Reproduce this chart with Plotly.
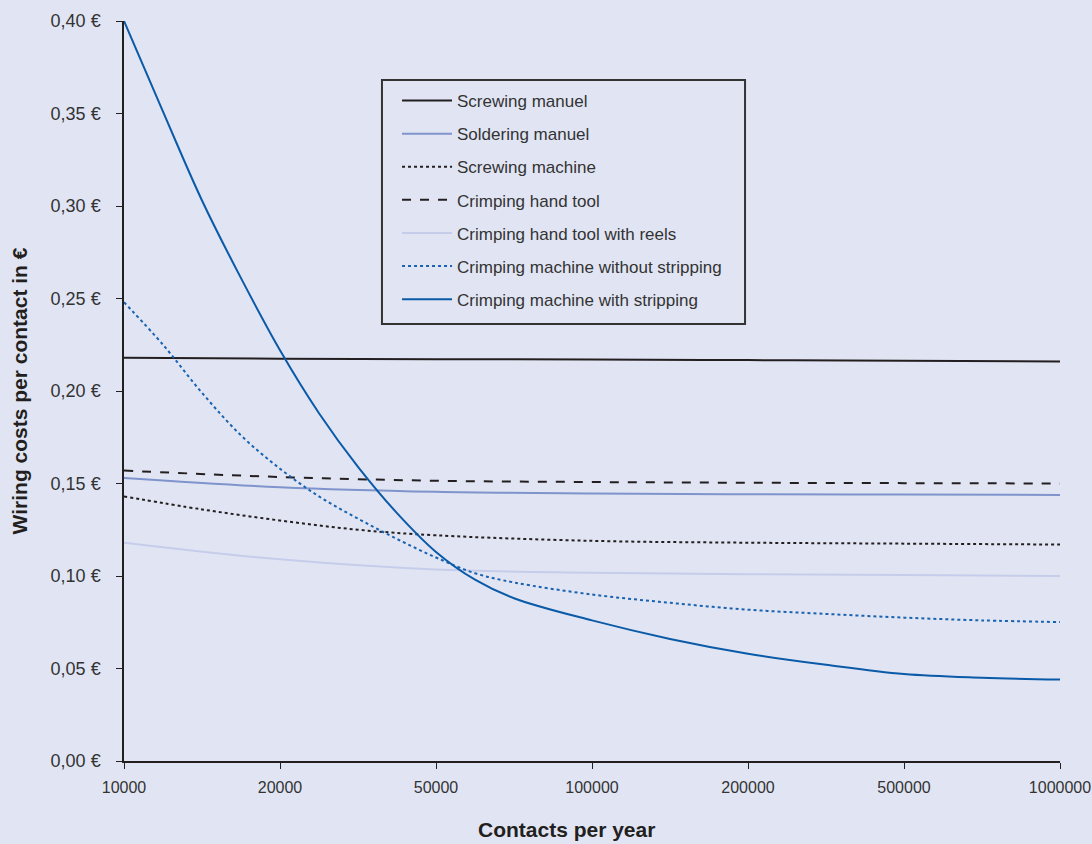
import plotly.graph_objects as go

# X axis: categories evenly spaced (index positions 0..6)
tick_labels = ["10000", "20000", "50000", "100000", "200000", "500000", "1000000"]
tick_pos = [0, 1, 2, 3, 4, 5, 6]

y_tick_vals = [0.00, 0.05, 0.10, 0.15, 0.20, 0.25, 0.30, 0.35, 0.40]
y_tick_text = ["0,00 €", "0,05 €", "0,10 €", "0,15 €", "0,20 €", "0,25 €", "0,30 €", "0,35 €", "0,40 €"]

# Series (x in category index positions, y in €)
x_screw_man = [0, 1, 2, 3, 4, 5, 6]
y_screw_man = [0.218, 0.2175, 0.2172, 0.217, 0.2167, 0.2164, 0.216]

x_solder_man = [0, 1, 2, 3, 4, 5, 6]
y_solder_man = [0.153, 0.148, 0.1455, 0.1446, 0.1442, 0.144, 0.1438]

x_screw_mach = [0, 0.5, 1, 1.5, 2, 3, 4, 5, 6]
y_screw_mach = [0.143, 0.136, 0.130, 0.125, 0.122, 0.119, 0.118, 0.1175, 0.117]

x_crimp_hand = [0, 1, 2, 3, 4, 5, 6]
y_crimp_hand = [0.157, 0.1535, 0.1515, 0.1508, 0.1504, 0.1502, 0.150]

x_crimp_reels = [0, 1, 2, 3, 4, 5, 6]
y_crimp_reels = [0.118, 0.109, 0.1035, 0.1018, 0.101, 0.1005, 0.100]

x_crimp_nostrip = [0, 0.25, 0.5, 0.75, 1.0, 1.25, 1.5, 1.75, 2.0, 2.25, 2.5, 3.0, 3.5, 4.0, 4.5, 5.0, 5.5, 6.0]
y_crimp_nostrip = [0.248, 0.225, 0.199, 0.176, 0.158, 0.143, 0.131, 0.120, 0.110, 0.1015, 0.0965, 0.090, 0.0855, 0.0818, 0.0795, 0.0775, 0.076, 0.0751]

x_crimp_strip = [0, 0.25, 0.5, 0.75, 1.0, 1.25, 1.5, 1.75, 2.0, 2.25, 2.5, 3.0, 3.5, 4.0, 4.5, 5.0, 5.5, 6.0]
y_crimp_strip = [0.400, 0.351, 0.303, 0.261, 0.222, 0.188, 0.159, 0.134, 0.113, 0.098, 0.088, 0.076, 0.066, 0.058, 0.052, 0.047, 0.045, 0.044]

series = [
    ("Screwing manuel", x_screw_man, y_screw_man, "#231f20", "solid"),
    ("Soldering manuel", x_solder_man, y_solder_man, "#7f93cc", "solid"),
    ("Screwing machine", x_screw_mach, y_screw_mach, "#231f20", "dot"),
    ("Crimping hand tool", x_crimp_hand, y_crimp_hand, "#231f20", "dash"),
    ("Crimping hand tool with reels", x_crimp_reels, y_crimp_reels, "#c6cdea", "solid"),
    ("Crimping machine without stripping", x_crimp_nostrip, y_crimp_nostrip, "#1a62b0", "dot"),
    ("Crimping machine with stripping", x_crimp_strip, y_crimp_strip, "#0a5aa8", "solid"),
]

BG = "#e1e5f3"
FONT = "Liberation Sans, Arial, sans-serif"
TXT = "#333333"

fig = go.Figure()
for i, (name, xs, ys, color, dash) in enumerate(series):
    fig.add_trace(go.Scatter(
        x=xs, y=ys, name=name, mode="lines", legendgroup="g%d" % i,
        line=dict(color=color, dash=dash, width=2, shape="spline", smoothing=1.0),
    ))

fig.update_layout(
    width=1092, height=844,
    paper_bgcolor=BG, plot_bgcolor=BG,
    margin=dict(l=124, r=32, t=21, b=83),
    font=dict(family=FONT, size=18, color=TXT),
    showlegend=True,
    legend=dict(
        x=0.2917, y=0.9162, xanchor="left", yanchor="top",
        bgcolor="rgba(0,0,0,0)", borderwidth=0,
        font=dict(family=FONT, size=17, color=TXT),
        tracegroupgap=8, itemwidth=50,
    ),
    shapes=[dict(
        type="rect", xref="paper", yref="paper",
        x0=0.2756, x1=0.6635, y0=0.5905, y1=0.9203,
        line=dict(color="#333333", width=2), fillcolor="rgba(0,0,0,0)", layer="above",
    )],
    xaxis=dict(
        range=[0, 6], tickvals=tick_pos, ticktext=tick_labels, automargin=False,
        showgrid=False, zeroline=False, showline=True, linecolor="#231f20", linewidth=1.5,
        ticks="outside", ticklen=6, tickcolor="#231f20", ticklabelstandoff=5,
        ticklabeloverflow="allow",
        tickfont=dict(family=FONT, size=16, color=TXT),
    ),
    yaxis=dict(
        range=[0, 0.40], tickvals=y_tick_vals, ticktext=y_tick_text, automargin=False,
        showgrid=False, zeroline=False, showline=True, linecolor="#231f20", linewidth=1.5,
        ticks="outside", ticklen=6, tickcolor="#231f20", ticklabelstandoff=12,
        tickfont=dict(family=FONT, size=18, color=TXT),
        title=dict(text="<b>Wiring costs per contact in €</b>",
                   font=dict(family=FONT, size=21, color="#231f20"), standoff=17),
    ),
    annotations=[dict(
        text="<b>Contacts per year</b>", xref="paper", yref="paper",
        x=0.473, y=-0.093, xanchor="center", yanchor="middle", showarrow=False,
        font=dict(family=FONT, size=21, color="#231f20"),
    )],
)

fig.write_html("out.html", config={"displayModeBar": False},
               post_script="document.body.style.margin='0px';")
